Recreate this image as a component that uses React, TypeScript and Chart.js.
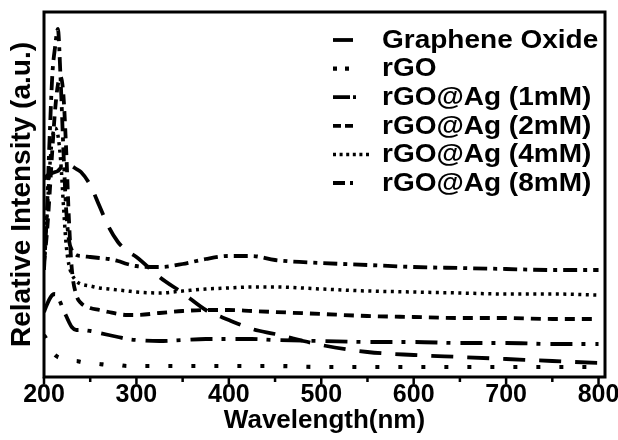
import React, { useEffect, useRef } from 'react';
import { Chart, registerables } from 'chart.js';

Chart.register(...registerables);

// ---- data (intensity in arbitrary units) ----
const WAVELENGTHS = [200, 203, 206, 209, 212, 215, 218, 221, 224, 227, 230, 235, 240, 250, 260, 270, 280, 290, 300, 325, 350, 375, 400, 425, 450, 500, 550, 600, 650, 700, 750, 800];

const GRAPHENE_OXIDE = [198, 201, 203, 204, 205, 206, 209, 212, 214, 213, 211, 208, 205, 192, 171, 150, 135, 126, 120, 100, 84, 67, 57, 48, 43, 32, 25, 22, 20, 18, 16, 14];
const RGO = [42, 37, 30, 25, 22, 20, 19, 18, 17, 17, 16, 16, 15, 14, 13, 12, 12, 11, 11, 11, 11, 11, 11, 11, 11, 10, 10, 10, 10, 10, 10, 10];
const RGO_AG_1MM = [65, 72, 78, 82, 83, 80, 74, 67, 61, 55, 50, 47, 47, 46, 44, 42, 40, 38, 37, 36, 37, 38, 38, 38, 37, 36, 35, 35, 34, 34, 33, 33];
const RGO_AG_2MM = [115, 142, 182, 227, 267, 292, 300, 282, 227, 157, 109, 82, 74, 69, 67, 65, 63, 62, 62, 64, 66, 67, 67, 66, 65, 63, 61, 60, 59, 59, 58, 58];
const RGO_AG_4MM = [115, 157, 207, 239, 249, 242, 217, 172, 132, 112, 103, 96, 93, 91, 89, 88, 87, 86, 85, 84, 86, 88, 89, 90, 90, 88, 86, 85, 84, 83, 83, 82];
const RGO_AG_8MM = [107, 162, 237, 302, 330, 348, 297, 227, 167, 137, 127, 122, 121, 120, 119, 118, 116, 113, 111, 110, 113, 118, 121, 121, 117, 114, 112, 110, 109, 108, 107, 107];

const SERIES_LABELS = ['Graphene Oxide', 'rGO', 'rGO@Ag (1mM)', 'rGO@Ag (2mM)', 'rGO@Ag (4mM)', 'rGO@Ag (8mM)'];
const SERIES_VALUES = [GRAPHENE_OXIDE, RGO, RGO_AG_1MM, RGO_AG_2MM, RGO_AG_4MM, RGO_AG_8MM];

const X_TICKS = [200, 250, 300, 350, 400, 450, 500, 550, 600, 650, 700, 750, 800];
const X_TITLE = 'Wavelength(nm)';
const Y_TITLE = 'Relative Intensity (a.u.)';

// ---- styles ----
const FONT = '"Liberation Sans", Arial, Helvetica, sans-serif';
const STYLES = [
  { dash: [22, 14], width: 3.8, legendDash: [20, 100], legendLen: 20 },
  { dash: [4, 19], width: 4.2, legendDash: [4, 8], legendLen: 16 },
  { dash: [22, 9, 4, 10], width: 3.8, legendDash: [17, 3, 3, 100], legendLen: 23 },
  { dash: [10, 7], width: 3.8, legendDash: [8, 4], legendLen: 20 },
  { dash: [3, 4.5], width: 3.5, legendDash: [3, 3.6], legendLen: 38 },
  { dash: [14, 6, 4, 6], width: 3.8, legendDash: [12, 5, 3, 100], legendLen: 20 },
];

const framePlugin = {
  id: 'frameAndTicks',
  afterDatasetsDraw(chart: any) {
    const { ctx, chartArea: a, scales } = chart;
    ctx.save();
    ctx.setLineDash([]);
    ctx.strokeStyle = '#000';
    ctx.lineWidth = 3;
    ctx.strokeRect(a.left, a.top, a.right - a.left, a.bottom - a.top);
    ctx.lineWidth = 2.5;
    X_TICKS.forEach((v) => {
      const px = scales.x.getPixelForValue(v);
      const len = v % 100 === 0 ? 7 : 5;
      ctx.beginPath();
      ctx.moveTo(px, a.bottom);
      ctx.lineTo(px, a.bottom + len);
      ctx.stroke();
    });
    ctx.restore();
  },
};

const legendPlugin = {
  id: 'insideLegend',
  afterDraw(chart: any) {
    const { ctx } = chart;
    ctx.save();
    chart.data.datasets.forEach((ds: any, i: number) => {
      const y = 40 + i * 28.6;
      const st = STYLES[i];
      ctx.strokeStyle = '#000';
      ctx.lineWidth = st.width;
      ctx.lineCap = 'butt';
      ctx.setLineDash(st.legendDash);
      ctx.beginPath();
      ctx.moveTo(333, y);
      ctx.lineTo(333 + st.legendLen, y);
      ctx.stroke();
      ctx.setLineDash([]);
      ctx.save();
      ctx.translate(382, y);
      ctx.scale(1.12, 1);
      ctx.font = `bold 25px ${FONT}`;
      ctx.textBaseline = 'middle';
      ctx.textAlign = 'left';
      ctx.fillStyle = '#000';
      ctx.fillText(ds.label, 0, 1);
      ctx.restore();
    });
    ctx.restore();
  },
};

export default function App() {
  const canvasRef = useRef<HTMLCanvasElement | null>(null);

  useEffect(() => {
    if (!canvasRef.current) return;
    const datasets = SERIES_LABELS.map((label, i) => ({
      label,
      data: WAVELENGTHS.map((w, j) => ({ x: w, y: SERIES_VALUES[i][j] })),
      borderColor: '#000',
      backgroundColor: '#000',
      borderWidth: STYLES[i].width,
      borderDash: STYLES[i].dash,
      borderCapStyle: 'butt',
      pointRadius: 0,
      fill: false,
      cubicInterpolationMode: 'monotone',
    }));

    const chart = new Chart(canvasRef.current, {
      type: 'line',
      data: { datasets } as any,
      options: {
        animation: false,
        responsive: false,
        maintainAspectRatio: false,
        layout: { padding: { top: 12, right: 13, left: 0, bottom: 0 } },
        plugins: { legend: { display: false }, tooltip: { enabled: false } },
        scales: {
          x: {
            type: 'linear',
            min: 200,
            max: 807,
            grid: { display: false, drawTicks: false },
            border: { display: false },
            afterBuildTicks: (axis: any) => {
              axis.ticks = X_TICKS.map((v) => ({ value: v }));
            },
            afterFit: (scale: any) => {
              scale.height = 63;
              scale.paddingLeft = 0;
              scale.paddingRight = 0;
            },
            ticks: {
              autoSkip: false,
              maxRotation: 0,
              padding: 3,
              color: '#000',
              font: { family: FONT, size: 25, weight: 'bold' },
              callback: (v: any) => (Number(v) % 100 === 0 ? String(v) : ''),
            },
            title: {
              display: true,
              text: X_TITLE,
              color: '#000',
              font: { family: FONT, size: 26, weight: 'bold' },
              padding: { top: 0, bottom: 4 },
            },
          },
          y: {
            type: 'linear',
            min: 0,
            max: 365,
            grid: { display: false, drawTicks: false },
            border: { display: false },
            ticks: { display: false },
            afterFit: (scale: any) => {
              scale.width = 44;
            },
            title: {
              display: true,
              text: Y_TITLE,
              color: '#000',
              font: { family: FONT, size: 28, weight: 'bold' },
              padding: { top: 5, bottom: 0 },
            },
          },
        },
      } as any,
      plugins: [framePlugin, legendPlugin],
    });
    return () => chart.destroy();
  }, []);

  return (
    <div style={{ position: 'fixed', left: 0, top: 0, width: 618, height: 440, background: '#fff' }}>
      <canvas ref={canvasRef} width={618} height={440} />
    </div>
  );
}
